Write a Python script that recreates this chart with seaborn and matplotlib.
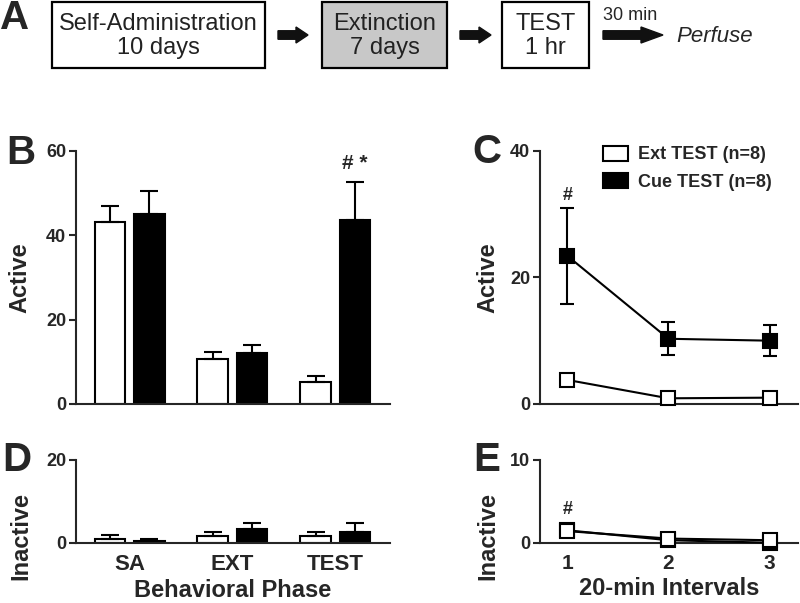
import numpy as np
import pandas as pd
import seaborn as sns
import matplotlib
matplotlib.use('Agg')
import matplotlib.pyplot as plt
from matplotlib.patches import Rectangle, FancyArrow, Patch

# ---- data ----
phases = ['SA', 'EXT', 'TEST']
groups = ['Ext TEST (n=8)', 'Cue TEST (n=8)']

# panel B (active lever, mean / SEM)
active_ext = [43.2, 10.7, 5.3]
active_ext_sem = [3.8, 1.5, 1.4]
active_cue = [45.1, 12.0, 43.6]
active_cue_sem = [5.3, 2.0, 9.1]

# panel D (inactive lever)
inactive_ext = [0.8, 1.6, 1.5]
inactive_ext_sem = [1.1, 1.0, 1.1]
inactive_cue = [0.4, 3.4, 2.6]
inactive_cue_sem = [0.6, 1.3, 2.1]

# panels C / E (20-min intervals of the test)
intervals = [1, 2, 3]
int_active_ext = [3.8, 0.9, 1.0]
int_active_ext_sem = [0.4, 0.3, 0.3]
int_active_cue = [23.4, 10.3, 10.0]
int_active_cue_sem = [7.6, 2.6, 2.4]
int_inactive_ext = [1.4, 0.5, 0.3]
int_inactive_ext_sem = [0.3, 0.2, 0.2]
int_inactive_cue = [1.5, 0.3, 0.0]
int_inactive_cue_sem = [0.4, 0.2, 0.0]

sns.set_style('ticks')
plt.rcParams['font.family'] = ['Liberation Sans', 'DejaVu Sans']
plt.rcParams['font.weight'] = 'bold'
plt.rcParams['axes.labelweight'] = 'bold'
plt.rcParams['axes.linewidth'] = 1.5

W, H = 800, 603
fig = plt.figure(figsize=(8, 6.03), dpi=100)


def px_axes(left, top, right, bottom):
    # axes placed from pixel edges of the reference
    return fig.add_axes([left / W, 1 - bottom / H, (right - left) / W, (bottom - top) / H])


def style_axes(ax, yticks, ylim):
    sns.despine(ax=ax)
    ax.set_ylim(*ylim)
    ax.set_yticks(yticks)
    ax.tick_params(axis='y', direction='out', length=5, width=1.5, labelsize=13, pad=2)
    ax.tick_params(axis='x', length=0)


def bar_panel(ax, ext, ext_sem, cue, cue_sem):
    df = pd.DataFrame({'phase': phases * 2,
                       'group': [groups[0]] * 3 + [groups[1]] * 3,
                       'value': ext + cue})
    sns.barplot(data=df, x='phase', y='value', hue='group', order=phases, hue_order=groups,
                palette=['white', 'black'], saturation=1, edgecolor='black', linewidth=1.5,
                width=0.76, gap=0.21, errorbar=None, legend=False, ax=ax)
    for bars, sem in zip(ax.containers, [ext_sem, cue_sem]):
        xs = [b.get_x() + b.get_width() / 2 for b in bars]
        ys = [b.get_height() for b in bars]
        ax.errorbar(xs, ys, yerr=[np.zeros(len(sem)), sem], fmt='none', ecolor='black',
                    elinewidth=1.5, capsize=6.5, capthick=1.5, zorder=1)
    ax.set_xlim(-0.52, 2.53)
    ax.set_xlabel('')


def line_panel(ax, cue, cue_sem, ext, ext_sem):
    for vals, sem, face, z in [(cue, cue_sem, 'black', 3), (ext, ext_sem, 'white', 4)]:
        ax.errorbar(intervals, vals, yerr=sem, fmt='none', ecolor='black',
                    elinewidth=1.5, capsize=5, capthick=1.5, zorder=z - 0.5, clip_on=False)
        sns.lineplot(x=intervals, y=vals, color='black', linewidth=1.5, marker='s',
                     markersize=10, markerfacecolor=face, markeredgecolor='black',
                     markeredgewidth=1.5, zorder=z, clip_on=False, ax=ax)
    ax.set_xlim(0.73, 3.28)
    ax.set_xticks(intervals)


# ---- panel A: timeline ----
axA = fig.add_axes([0, 1 - 75 / H, 1, 75 / H])
axA.set_xlim(0, 800)
axA.set_ylim(75, 0)
axA.axis('off')
boxes = [(52, 213, 'white', 'Self-Administration\n10 days'),
         (322, 125, '#c8c8c8', 'Extinction\n7 days'),
         (502, 87, 'white', 'TEST\n1 hr')]
for x0, w, fc, label in boxes:
    axA.add_patch(Rectangle((x0, 2), w, 66, facecolor=fc, edgecolor='black', lw=1.6, clip_on=False))
    axA.text(x0 + w / 2, 36, label, ha='center', va='center', fontsize=17,
             fontweight='normal', linespacing=1.12, color='#222222')
for x0, length, hl in [(278, 30, 12), (460, 31, 12), (603, 60, 22)]:
    axA.add_patch(FancyArrow(x0, 35, length, 0, width=8.5, head_width=16, head_length=hl,
                             length_includes_head=True, color='#111111'))
axA.text(630, 15, '30 min', ha='center', va='center', fontsize=13, fontweight='normal')
axA.text(715, 37, 'Perfuse', ha='center', va='center', fontsize=16,
         fontweight='normal', style='italic')

# ---- panel B ----
axB = px_axes(76, 150.7, 390, 404)
bar_panel(axB, active_ext, active_ext_sem, active_cue, active_cue_sem)
style_axes(axB, [0, 20, 40, 60], (0, 60))
axB.set_xticklabels([])
axB.set_ylabel('Active', fontsize=17)
axB.yaxis.set_label_coords(-0.142, 0.5)
test_bar = axB.containers[1][2]
axB.text(test_bar.get_x() + test_bar.get_width() / 2, 57, '# *', ha='center', va='center',
         fontsize=15)

# ---- panel D ----
axD = px_axes(76, 460, 390, 542.7)
bar_panel(axD, inactive_ext, inactive_ext_sem, inactive_cue, inactive_cue_sem)
style_axes(axD, [0, 20], (0, 20))
axD.tick_params(axis='x', labelsize=16, pad=8)
axD.set_xlabel('Behavioral Phase', fontsize=17, labelpad=3)
axD.set_ylabel('Inactive', fontsize=17)
axD.yaxis.set_label_coords(-0.14, 0.08)

# ---- panel C ----
axC = px_axes(540, 150.7, 798, 404)
line_panel(axC, int_active_cue, int_active_cue_sem, int_active_ext, int_active_ext_sem)
style_axes(axC, [0, 20, 40], (0, 40))
axC.set_xticklabels([])
axC.set_ylabel('Active', fontsize=17)
axC.yaxis.set_label_coords(-0.157, 0.5)
axC.text(intervals[0], 33, '#', ha='center', va='center', fontsize=13)
handles = [Patch(facecolor='white', edgecolor='black', lw=1.5),
           Patch(facecolor='black', edgecolor='black', lw=1.5)]
axC.legend(handles, groups, loc='upper left', bbox_to_anchor=(0.245, 1.02), frameon=False,
           handlelength=1.4, handleheight=0.9, handletextpad=0.5, labelspacing=0.55,
           borderpad=0, borderaxespad=0, prop={'weight': 'bold', 'size': 13})

# ---- panel E ----
axE = px_axes(540, 460, 798, 542.7)
line_panel(axE, int_inactive_cue, int_inactive_cue_sem, int_inactive_ext, int_inactive_ext_sem)
style_axes(axE, [0, 10], (0, 10))
axE.tick_params(axis='x', labelsize=15, pad=8)
axE.set_xlabel('20-min Intervals', fontsize=17, labelpad=3)
axE.set_ylabel('Inactive', fontsize=17)
axE.yaxis.set_label_coords(-0.157, 0.08)
axE.text(intervals[0], 4.0, '#', ha='center', va='center', fontsize=13)

# ---- panel letters ----
for letter, (x, y) in {'A': (15, 18), 'B': (21, 153), 'C': (487, 152),
                       'D': (17, 460), 'E': (487, 460)}.items():
    fig.text(x / W, 1 - y / H, letter, ha='center', va='center', fontsize=29)

fig.savefig('out.png', dpi=100)
